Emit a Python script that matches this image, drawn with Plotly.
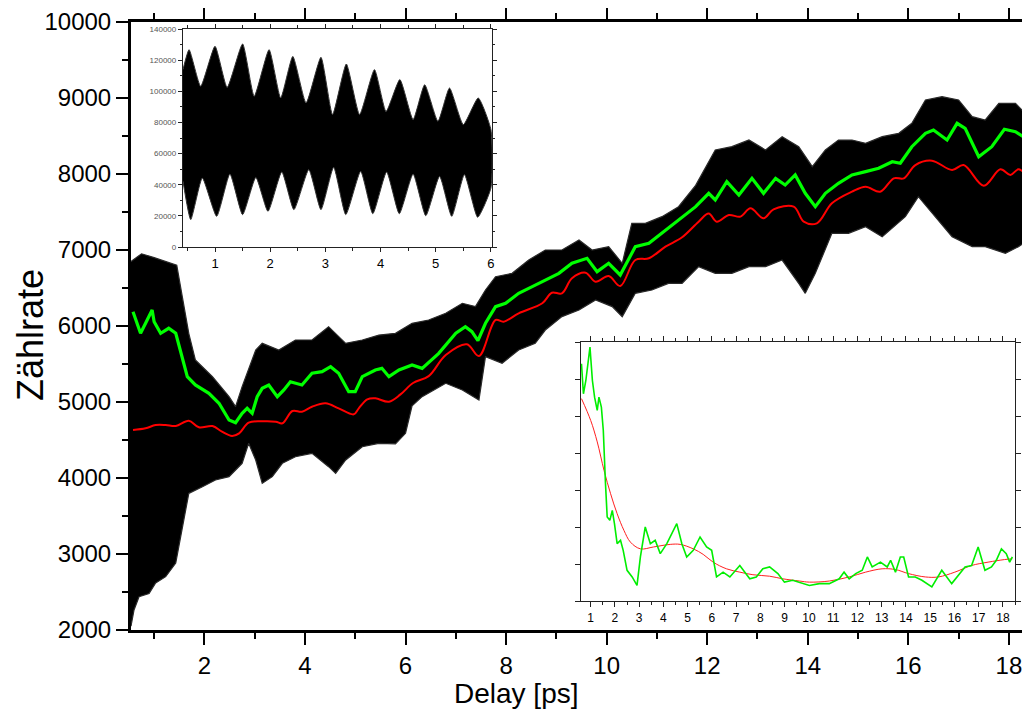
import plotly.graph_objects as go

# ---------------- main chart data (Delay in ps, counts) ----------------
band_upper_x = [0.54, 0.75, 1.0, 1.25, 1.45, 1.56, 1.69, 1.82, 2.16, 2.49, 2.62, 2.75, 3.02, 3.15, 3.48,
                3.81, 4.14, 4.47, 4.81, 5.14, 5.47, 5.80, 6.13, 6.46, 6.80, 7.13, 7.39, 7.59, 7.79, 8.12,
                8.45, 8.78, 9.11, 9.45, 9.71, 10.04, 10.31, 10.50, 10.77, 11.10, 11.43, 11.77, 12.16,
                12.49, 12.83, 13.16, 13.49, 13.82, 14.09, 14.35, 14.61, 14.88, 15.15, 15.48, 15.81,
                16.07, 16.34, 16.67, 17.00, 17.27, 17.53, 17.80, 18.13, 18.39]
band_upper_y = [6850, 6950, 6900, 6850, 6800, 6386, 5900, 5553, 5333, 5070, 4939, 5202, 5684, 5772, 5684,
                5816, 5816, 5991, 5772, 5816, 5880, 5904, 6035, 6079, 6167, 6299, 6255, 6474, 6649, 6693,
                6868, 7000, 7000, 7132, 7000, 7044, 6825, 7351, 7351, 7439, 7570, 7850, 8316,
                8360, 8447, 8316, 8491, 8360, 8096, 8316, 8447, 8447, 8404, 8491, 8535,
                8667, 8974, 9017, 8974, 8754, 8711, 8930, 8930, 8754]

band_lower_x = [0.54, 0.60, 0.70, 0.90, 1.03, 1.23, 1.43, 1.49, 1.59, 1.69, 1.96, 2.22, 2.49, 2.75, 2.88,
                3.02, 3.15, 3.35, 3.55, 3.81, 4.14, 4.47, 4.61, 4.81, 5.14, 5.47, 5.80, 6.00, 6.13, 6.33,
                6.80, 7.13, 7.46, 7.59, 7.92, 8.25, 8.58, 8.78, 9.11, 9.45, 9.78, 10.11, 10.31, 10.57,
                10.90, 11.23, 11.50, 11.83, 12.16, 12.49, 12.83, 13.16, 13.49, 13.82, 13.95, 14.15,
                14.48, 14.81, 15.15, 15.48, 15.94, 16.20, 16.47, 16.87, 17.27, 17.53, 17.93, 18.19, 18.39]
band_lower_y = [2050, 2263, 2438, 2480, 2618, 2702, 2880, 3096, 3447, 3798, 3886, 3974, 4018, 4193, 4456,
                4237, 3930, 4018, 4193, 4280, 4325, 4149, 4061, 4237, 4412, 4456, 4450, 4588, 4950, 5070,
                5246, 5158, 5026, 5596, 5509, 5684, 5772, 5947, 6123, 6211, 6342, 6255, 6123, 6430,
                6474, 6561, 6561, 6781, 6693, 6693, 6781, 6781, 6868, 6561, 6430, 6693,
                7220, 7220, 7307, 7175, 7439, 7702, 7483, 7175, 7044, 7044, 6956, 7044, 7132]

green_x = [0.58, 0.73, 0.83, 0.96, 1.00, 1.13, 1.29, 1.43, 1.66, 1.82, 2.09, 2.29, 2.49, 2.62, 2.75, 2.85,
           2.95, 3.05, 3.15, 3.28, 3.45, 3.58, 3.71, 3.94, 4.14, 4.34, 4.51, 4.67, 4.87, 5.00, 5.14, 5.40,
           5.53, 5.67, 5.87, 6.13, 6.33, 6.66, 7.00, 7.19, 7.32, 7.44, 7.59, 7.79, 7.99, 8.25, 8.52, 8.78,
           9.05, 9.31, 9.61, 9.81, 10.04, 10.27, 10.57, 10.84, 11.10, 11.43, 11.77, 12.03, 12.16, 12.39,
           12.63, 12.89, 13.12, 13.36, 13.55, 13.75, 13.95, 14.15, 14.35, 14.61, 14.88, 15.15, 15.41,
           15.68, 15.84, 16.07, 16.34, 16.50, 16.77, 16.97, 17.13, 17.40, 17.66, 17.91, 18.13, 18.39]
green_y = [6188, 5904, 6036, 6211, 6057, 5904, 5970, 5904, 5333, 5224, 5114, 4983, 4763, 4728, 4851, 4917,
           4851, 5070, 5180, 5224, 5070, 5158, 5267, 5224, 5378, 5399, 5465, 5378, 5136, 5136, 5333, 5421,
           5443, 5333, 5421, 5487, 5443, 5640, 5904, 5991, 5925, 5807, 6036, 6255, 6299, 6430, 6518, 6605,
           6693, 6825, 6891, 6715, 6825, 6671, 7044, 7088, 7220, 7395, 7570, 7746, 7658, 7899,
           7724, 7943, 7746, 7943, 7855, 7987, 7746, 7570, 7746, 7878, 7987, 8031, 8075,
           8162, 8141, 8359, 8535, 8579, 8447, 8667, 8601, 8228, 8359, 8588, 8557, 8447]

red_x = [0.58, 0.83, 1.03, 1.23, 1.43, 1.69, 1.89, 2.16, 2.35, 2.55, 2.69, 2.88, 3.15, 3.42, 3.55, 3.75,
         3.94, 4.14, 4.41, 4.67, 4.97, 5.07, 5.24, 5.40, 5.67, 5.90, 6.15, 6.46, 6.80, 7.22, 7.46, 7.79,
         7.95, 8.25, 8.72, 8.91, 9.11, 9.31, 9.58, 9.78, 10.04, 10.27, 10.57, 10.84, 11.17, 11.50, 11.83,
         12.03, 12.19, 12.43, 12.66, 12.86, 13.12, 13.32, 13.72, 13.92, 14.18, 14.48, 14.88, 15.15,
         15.44, 15.71, 15.91, 16.14, 16.47, 16.87, 17.10, 17.50, 17.83, 18.03, 18.19, 18.39]
red_y = [4632, 4654, 4697, 4697, 4684, 4754, 4667, 4684, 4609, 4553, 4588, 4728, 4746, 4741, 4720, 4882,
         4873, 4938, 4983, 4917, 4838, 4917, 5035, 5048, 5004, 5100, 5250, 5340, 5618, 5759, 5605, 6079,
         6057, 6167, 6299, 6438, 6430, 6627, 6701, 6583, 6658, 6526, 6868, 6891, 7044, 7167, 7373,
         7480, 7373, 7461, 7439, 7548, 7417, 7535, 7570, 7373, 7351, 7614, 7767, 7833,
         7767, 7943, 7943, 8118, 8175, 8053, 8118, 7846, 8061, 7987, 8061, 7965]

# ---------------- top-left inset data ----------------
in1_upper_x = [0.42, 0.53, 0.74, 1.00, 1.22, 1.50, 1.71, 1.98, 2.19, 2.41, 2.65, 2.92, 3.13, 3.38, 3.62,
               3.89, 4.10, 4.35, 4.59, 4.80, 5.04, 5.25, 5.50, 5.77, 6.00]
in1_upper_y = [114000, 126700, 103200, 128900, 102500, 130400, 96800, 126700, 95700, 122400, 92500, 121800,
               85000, 117500, 85000, 113900, 87000, 107500, 81800, 104200, 80700, 102100, 78600, 95700, 75400]
in1_lower_x = [0.42, 0.56, 0.77, 1.03, 1.27, 1.50, 1.74, 1.96, 2.21, 2.43, 2.70, 2.92, 3.15, 3.37, 3.64,
               3.86, 4.11, 4.34, 4.59, 4.82, 5.07, 5.29, 5.52, 5.76, 6.00]
in1_lower_y = [42200, 17600, 44300, 19700, 46900, 20800, 44700, 22900, 48200, 24000, 49700, 24000, 51200,
               20800, 48600, 21400, 48200, 21400, 46900, 20100, 45400, 19700, 46500, 19100, 37900]

# ---------------- bottom-right inset data (arbitrary units) ----------------
in2_green_x = [0.62, 0.70, 0.80, 0.89, 0.97, 1.07, 1.16, 1.27, 1.34, 1.44, 1.52, 1.61, 1.68, 1.79, 1.89,
               1.98, 2.09, 2.23, 2.34, 2.50, 2.71, 2.91, 3.05, 3.25, 3.46, 3.66, 3.87, 4.14, 4.35, 4.55,
               4.76, 4.96, 5.23, 5.51, 5.78, 5.99, 6.19, 6.46, 6.74, 7.15, 7.56, 7.83, 8.10, 8.38, 8.72,
               8.99, 9.33, 9.61, 10.02, 10.43, 10.84, 11.25, 11.45, 11.66, 11.93, 12.20, 12.41, 12.61,
               12.95, 13.23, 13.37, 13.57, 13.77, 13.91, 14.11, 14.39, 14.66, 15.07, 15.48, 15.89, 16.16,
               16.44, 16.71, 16.98, 17.26, 17.53, 17.73, 17.94, 18.14, 18.28, 18.39]
in2_green_y = [6.41, 5.60, 5.96, 6.46, 6.86, 5.96, 5.51, 5.15, 5.51, 5.24, 4.61, 3.17, 2.27, 2.18, 2.45,
               2.09, 1.55, 1.64, 1.37, 0.83, 0.65, 0.42, 1.19, 2.00, 1.55, 1.64, 1.28, 1.55, 1.82, 2.09,
               1.55, 1.19, 1.37, 1.73, 1.46, 1.37, 0.65, 0.78, 0.65, 0.96, 0.60, 0.65, 0.87, 0.92, 0.74,
               0.51, 0.56, 0.50, 0.42, 0.47, 0.47, 0.60, 0.78, 0.60, 0.74, 0.83, 1.19, 0.92,
               1.05, 0.92, 1.10, 0.78, 1.19, 1.19, 0.65, 0.65, 0.56, 0.38, 0.83, 0.47, 0.69,
               0.92, 0.96, 1.46, 0.83, 0.92, 1.10, 1.41, 1.28, 1.05, 1.19]
in2_red_x = [0.62, 1.00, 1.27, 1.55, 1.82, 2.09, 2.37, 2.64, 3.05, 3.59, 4.28, 4.69, 5.23, 5.64, 6.05,
             6.60, 7.15, 7.69, 8.38, 8.92, 9.61, 10.02, 10.84, 11.66, 12.34, 13.02, 13.57, 14.11, 14.80,
             15.34, 16.02, 16.71, 17.39, 18.07, 18.39]
in2_red_y = [5.47, 4.88, 4.30, 3.53, 2.90, 2.36, 1.91, 1.59, 1.41, 1.46, 1.53, 1.53, 1.41, 1.26, 1.05,
             0.87, 0.78, 0.71, 0.67, 0.60, 0.54, 0.51, 0.54, 0.65, 0.78, 0.87, 0.85, 0.74, 0.65,
             0.65, 0.78, 0.96, 1.05, 1.12, 1.14]

# ---------------- axis settings ----------------
main_xrange = [0.54, 18.38]
main_yrange = [2000, 10000]
in1_xrange = [0.42, 6.02]
in1_yrange = [0, 140000]
in2_xrange = [0.6, 18.5]
in2_yrange = [0, 7]

# page is rendered with the browser's default 8px body margin
OFF = 8
PAGE_W, PAGE_H = 1030, 711
W, H = PAGE_W - OFF, PAGE_H - OFF
PLOT_L, PLOT_R, PLOT_T, PLOT_B = 131, 1028, 22, 630   # page pixels of the main plot area
ML, MT = PLOT_L - OFF, PLOT_T - OFF
MR, MB = W - (PLOT_R - OFF), H - (PLOT_B - OFF)
PW, PH = PLOT_R - PLOT_L, PLOT_B - PLOT_T


def px_x(p):
    return (p - PLOT_L) / PW


def px_y(p):
    return (PLOT_B - p) / PH


fig = go.Figure()

# main black band
fig.add_trace(go.Scatter(
    x=band_upper_x + band_lower_x[::-1], y=band_upper_y + band_lower_y[::-1],
    fill="toself", fillcolor="black", mode="lines",
    line=dict(color="#2a2a2a", width=1.2), hoverinfo="skip", showlegend=False,
    xaxis="x", yaxis="y"))
fig.add_trace(go.Scatter(x=green_x, y=green_y, mode="lines",
                         line=dict(color="#00ff00", width=3.2), showlegend=False,
                         xaxis="x", yaxis="y"))
fig.add_trace(go.Scatter(x=red_x, y=red_y, mode="lines",
                         line=dict(color="#ff0000", width=2), showlegend=False,
                         xaxis="x", yaxis="y", line_shape="spline"))

# inset 1 background + band
fig.add_trace(go.Scatter(
    x=[in1_xrange[0], in1_xrange[1], in1_xrange[1], in1_xrange[0]],
    y=[in1_yrange[0], in1_yrange[0], in1_yrange[1], in1_yrange[1]],
    fill="toself", fillcolor="white", mode="none", hoverinfo="skip", showlegend=False,
    xaxis="x2", yaxis="y2"))
fig.add_trace(go.Scatter(
    x=in1_upper_x + in1_lower_x[::-1], y=in1_upper_y + in1_lower_y[::-1],
    fill="toself", fillcolor="black", mode="lines", line=dict(color="#333", width=1),
    line_shape="spline", line_smoothing=0.5,
    hoverinfo="skip", showlegend=False, xaxis="x2", yaxis="y2"))

# inset 2 background + lines
fig.add_trace(go.Scatter(
    x=[in2_xrange[0], in2_xrange[1], in2_xrange[1], in2_xrange[0]],
    y=[in2_yrange[0], in2_yrange[0], in2_yrange[1], in2_yrange[1]],
    fill="toself", fillcolor="white", mode="none", hoverinfo="skip", showlegend=False,
    xaxis="x3", yaxis="y3"))
fig.add_trace(go.Scatter(x=in2_red_x, y=in2_red_y, mode="lines", line_shape="spline",
                         line=dict(color="#ff2020", width=1), showlegend=False,
                         xaxis="x3", yaxis="y3"))
fig.add_trace(go.Scatter(x=in2_green_x, y=in2_green_y, mode="lines",
                         line=dict(color="#00ee00", width=1.6), showlegend=False,
                         xaxis="x3", yaxis="y3"))

font_main = "Liberation Sans, Arial, sans-serif"

main_axis_common = dict(showgrid=False, zeroline=False, showline=True, linewidth=3, linecolor="black",
                        mirror="ticks", ticks="outside", tickwidth=2, tickcolor="black", ticklen=12,
                        tickfont=dict(family=font_main, size=24, color="black"))

in1_pos = dict(x0=px_x(183), x1=px_x(492), y0=px_y(247), y1=px_y(29))
in2_pos = dict(x0=px_x(581), x1=px_x(1015), y0=px_y(601), y1=px_y(342))

inset_common = dict(showgrid=False, zeroline=False, showline=True, linewidth=1.3, linecolor="#222",
                    mirror="ticks", ticks="outside", tickwidth=1, tickcolor="#222")

fig.update_layout(
    width=W, height=H, margin=dict(l=ML, r=MR, t=MT, b=MB, autoexpand=False),
    paper_bgcolor="white", plot_bgcolor="white", showlegend=False,
    xaxis=dict(range=main_xrange, domain=[0, 1], tickmode="linear", tick0=2, dtick=2,
               minor=dict(dtick=1, tick0=1, ticklen=6, tickwidth=2, ticks="outside", tickcolor="black"),
               anchor="y", **main_axis_common),
    yaxis=dict(range=main_yrange, domain=[0, 1], tickmode="linear", tick0=2000, dtick=1000,
               tickformat="d",
               minor=dict(dtick=500, ticklen=6, tickwidth=2, ticks="outside", tickcolor="black"),
               anchor="x", **main_axis_common),
    xaxis2=dict(range=in1_xrange, domain=[in1_pos["x0"], in1_pos["x1"]], anchor="y2",
                tickmode="linear", tick0=1, dtick=1, ticklen=4,
                minor=dict(dtick=0.5, tick0=0.5, ticklen=3, ticks="outside", tickcolor="#222"),
                tickfont=dict(family=font_main, size=13, color="black"), **inset_common),
    yaxis2=dict(range=in1_yrange, domain=[in1_pos["y0"], in1_pos["y1"]], anchor="x2",
                tickmode="linear", tick0=0, dtick=20000, ticklen=4, tickformat="d",
                minor=dict(dtick=10000, ticklen=2, ticks="outside", tickcolor="#222"),
                tickfont=dict(family=font_main, size=8, color="#555"), **inset_common),
    xaxis3=dict(range=in2_xrange, domain=[in2_pos["x0"], in2_pos["x1"]], anchor="y3",
                tickmode="linear", tick0=1, dtick=1, ticklen=5,
                minor=dict(dtick=0.5, tick0=0.5, ticklen=3, ticks="outside", tickcolor="#222"),
                tickfont=dict(family=font_main, size=12, color="black"), **inset_common),
    yaxis3=dict(range=in2_yrange, domain=[in2_pos["y0"], in2_pos["y1"]], anchor="x3",
                tickmode="linear", tick0=0, dtick=2, ticklen=5, showticklabels=False,
                minor=dict(dtick=1, ticklen=5, ticks="outside", tickcolor="#222"),
                **inset_common),
    annotations=[
        dict(text="Zählrate", x=px_x(30), y=px_y(335), xref="paper", yref="paper",
             showarrow=False, textangle=-90, font=dict(family=font_main, size=36, color="black"),
             xanchor="center", yanchor="middle"),
        dict(text="Delay [ps]", x=px_x(516), y=px_y(694), xref="paper", yref="paper",
             showarrow=False, font=dict(family=font_main, size=28, color="black"),
             xanchor="center", yanchor="middle"),
    ],
)

fig.write_html("out.html")
